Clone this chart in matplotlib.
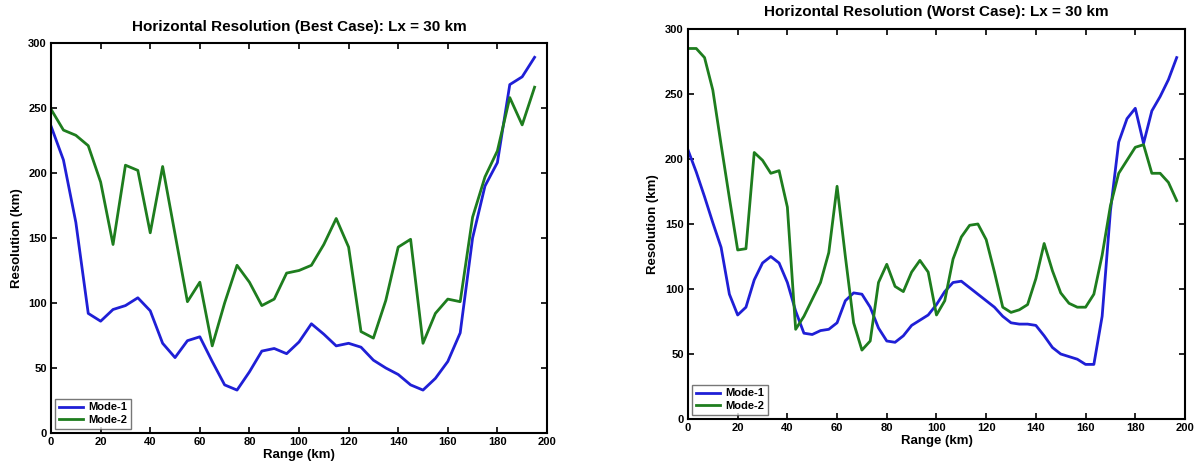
import matplotlib
matplotlib.use('Agg')
import matplotlib.pyplot as plt
import numpy as np

# best case: range every 5 km
range_best = np.arange(0, 200, 5)
mode1_best = [236, 210, 162, 92, 86, 95, 98, 104, 94, 69,
              58, 71, 74, 55, 37, 33, 47, 63, 65, 61,
              70, 84, 76, 67, 69, 66, 56, 50, 45, 37,
              33, 42, 55, 77, 150, 190, 208, 268, 274, 289]
mode2_best = [249, 233, 229, 221, 193, 145, 206, 202, 154, 205,
              153, 101, 116, 67, 100, 129, 116, 98, 103, 123,
              125, 129, 145, 165, 143, 78, 73, 102, 143, 149,
              69, 92, 103, 101, 166, 197, 217, 258, 237, 266]

# worst case: range every 10/3 km
range_worst = np.arange(60) * 10.0 / 3.0
mode1_worst = [207, 190, 171, 151, 132, 96, 80, 86, 107, 120,
               125, 120, 105, 83, 66, 65, 68, 69, 74, 91,
               97, 96, 86, 70, 60, 59, 64, 72, 76, 80,
               88, 98, 105, 106, 101, 96, 91, 86, 79, 74,
               73, 73, 72, 64, 55, 50, 48, 46, 42, 42,
               79, 160, 213, 231, 239, 212, 237, 248, 261, 278]
mode2_worst = [285, 285, 278, 253, 211, 170, 130, 131, 205, 199,
               189, 191, 163, 69, 79, 92, 105, 128, 179, 125,
               74, 53, 60, 105, 119, 102, 98, 113, 122, 113,
               80, 91, 123, 140, 149, 150, 138, 113, 86, 82,
               84, 88, 108, 135, 114, 97, 89, 86, 86, 96,
               126, 164, 189, 199, 209, 211, 189, 189, 182, 168]

plt.rcParams['font.family'] = ['Liberation Sans', 'DejaVu Sans']
plt.rcParams['font.weight'] = 'bold'

BLUE = '#1f1fd6'
GREEN = '#1e7d1e'

fig = plt.figure(figsize=(12.04, 4.69), dpi=100)
ax1 = fig.add_axes([0.0424, 0.0768, 0.4119, 0.8315])
ax2 = fig.add_axes([0.5714, 0.1066, 0.4128, 0.8316])


def style(ax, title):
    ax.set_xlim(0, 200)
    ax.set_ylim(0, 300)
    ax.set_xticks(np.arange(0, 201, 20))
    ax.set_yticks(np.arange(0, 301, 50))
    ax.tick_params(direction='in', top=True, right=True, length=4,
                   width=1.2, labelsize=8, pad=3)
    for lab in ax.get_xticklabels() + ax.get_yticklabels():
        lab.set_fontweight('bold')
    for sp in ax.spines.values():
        sp.set_linewidth(1.5)
    ax.set_title(title, fontsize=11, fontweight='bold', pad=9)
    ax.set_xlabel('Range (km)', fontsize=9.5, fontweight='bold', labelpad=1)
    ax.set_ylabel('Resolution (km)', fontsize=9.5, fontweight='bold', labelpad=4)
    leg = ax.legend(loc='lower left', fontsize=8, frameon=True, fancybox=False,
                    handlelength=2.1, handletextpad=0.5, borderpad=0.35,
                    labelspacing=0.2, borderaxespad=0.4)
    leg.get_frame().set_edgecolor('#555555')
    leg.get_frame().set_linewidth(1.0)
    for t in leg.get_texts():
        t.set_fontweight('bold')


ax1.plot(range_best, mode1_best, color=BLUE, lw=2, label='Mode-1')
ax1.plot(range_best, mode2_best, color=GREEN, lw=2, label='Mode-2')
style(ax1, 'Horizontal Resolution (Best Case): Lx = 30 km')

ax2.plot(range_worst, mode1_worst, color=BLUE, lw=2, label='Mode-1')
ax2.plot(range_worst, mode2_worst, color=GREEN, lw=2, label='Mode-2')
style(ax2, 'Horizontal Resolution (Worst Case): Lx = 30 km')

fig.savefig('out.png', dpi=100)
